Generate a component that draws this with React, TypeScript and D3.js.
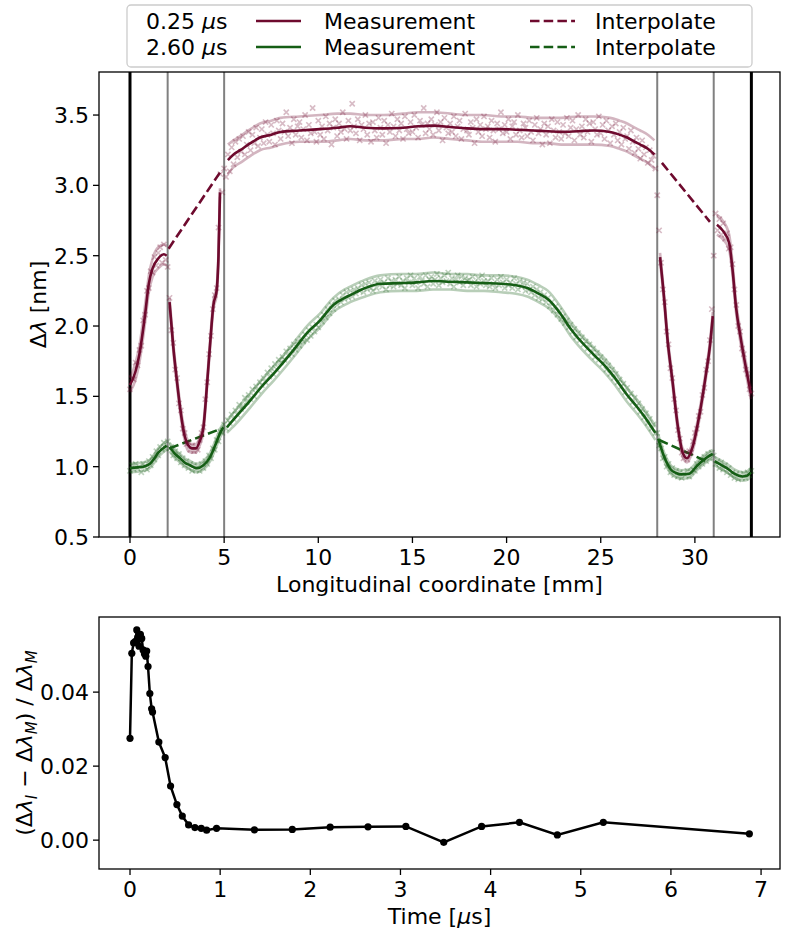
import React from "react";
import * as d3 from "d3";

// ---------- DATA ----------
// Segments: [x (mm), mean, lower envelope, upper envelope]
type Row = [number, number, number, number];

const M_SEG_A: Row[] = [
  [0, 1.58, 1.53, 1.63], [0.3, 1.68, 1.62, 1.74], [0.5, 1.8, 1.74, 1.86], [0.8, 2.08, 2.02, 2.15],
  [1.0, 2.3, 2.24, 2.36], [1.2, 2.41, 2.35, 2.48], [1.5, 2.48, 2.41, 2.56], [1.8, 2.51, 2.44, 2.58],
  [1.95, 2.5, 2.43, 2.57],
];
const M_SEG_B: Row[] = [
  [2.1, 2.17, 2.14, 2.2], [2.3, 1.85, 1.82, 1.88], [2.5, 1.6, 1.57, 1.63], [2.7, 1.38, 1.35, 1.41],
  [2.9, 1.22, 1.19, 1.26], [3.1, 1.15, 1.11, 1.18], [3.3, 1.13, 1.1, 1.16], [3.5, 1.13, 1.1, 1.16],
  [3.7, 1.18, 1.15, 1.21], [3.9, 1.28, 1.25, 1.31], [4.1, 1.6, 1.57, 1.63], [4.27, 1.9, 1.87, 1.93],
  [4.43, 2.15, 2.12, 2.18], [4.6, 2.25, 2.22, 2.28], [4.7, 2.5, 2.47, 2.53], [4.78, 2.95, 2.92, 2.98],
];
const M_SEG_C: Row[] = [
  [5.2, 3.18, 3.08, 3.29], [5.5, 3.22, 3.13, 3.32], [5.85, 3.25, 3.16, 3.35], [6.4, 3.3, 3.21, 3.4],
  [6.9, 3.34, 3.25, 3.44], [7.5, 3.36, 3.27, 3.46], [8.0, 3.38, 3.29, 3.48], [9.0, 3.39, 3.31, 3.49],
  [10.1, 3.4, 3.31, 3.5], [11.0, 3.41, 3.32, 3.51], [11.7, 3.42, 3.33, 3.51], [12.5, 3.41, 3.32, 3.5],
  [13.5, 3.405, 3.32, 3.5], [14.5, 3.41, 3.33, 3.51], [15.3, 3.42, 3.33, 3.52], [16.1, 3.425, 3.34, 3.52],
  [17.0, 3.415, 3.33, 3.51], [17.9, 3.405, 3.32, 3.5], [18.8, 3.4, 3.31, 3.5], [19.7, 3.4, 3.31, 3.49],
  [20.6, 3.395, 3.31, 3.49], [21.4, 3.39, 3.3, 3.48], [22.2, 3.385, 3.3, 3.48], [22.9, 3.38, 3.29, 3.48],
  [23.8, 3.385, 3.29, 3.49], [24.6, 3.39, 3.29, 3.49], [25.5, 3.38, 3.28, 3.48], [26.0, 3.36, 3.26, 3.46],
  [26.4, 3.34, 3.24, 3.44], [26.8, 3.31, 3.21, 3.41], [27.1, 3.29, 3.19, 3.39], [27.5, 3.26, 3.16, 3.36],
  [27.85, 3.22, 3.12, 3.32],
];
const M_SEG_D: Row[] = [
  [28.15, 2.49, 2.46, 2.52], [28.37, 2.19, 2.16, 2.22], [28.55, 1.9, 1.87, 1.93], [28.8, 1.62, 1.59, 1.65],
  [29.1, 1.28, 1.25, 1.31], [29.35, 1.1, 1.07, 1.13], [29.58, 1.06, 1.03, 1.1], [29.88, 1.14, 1.11, 1.17],
  [30.23, 1.36, 1.33, 1.39], [30.59, 1.66, 1.63, 1.69], [30.8, 1.86, 1.83, 1.89], [30.95, 2.07, 2.04, 2.1],
];
const M_SEG_E: Row[] = [
  [31.17, 2.72, 2.65, 2.79], [31.47, 2.68, 2.62, 2.75], [31.82, 2.59, 2.54, 2.65], [32.0, 2.4, 2.36, 2.45],
  [32.18, 2.14, 2.1, 2.18], [32.45, 1.9, 1.86, 1.94], [32.7, 1.71, 1.67, 1.75], [32.97, 1.52, 1.48, 1.56],
];
const M_INTERP: [number, number][][] = [
  [[2.05, 2.55], [4.82, 3.1]],
  [[28.25, 3.16], [30.8, 2.74]],
];

const G_SEG_A: Row[] = [
  [0, 0.99, 0.96, 1.02], [0.4, 0.995, 0.965, 1.025], [0.7, 1.0, 0.97, 1.03], [1.06, 1.02, 0.99, 1.05],
  [1.3, 1.06, 1.03, 1.09], [1.5, 1.1, 1.07, 1.13], [1.75, 1.13, 1.1, 1.16], [1.95, 1.15, 1.12, 1.18],
];
const G_SEG_B: Row[] = [
  [2.1, 1.14, 1.11, 1.17], [2.4, 1.09, 1.06, 1.12], [2.66, 1.06, 1.03, 1.09], [2.9, 1.03, 1.0, 1.06],
  [3.19, 1.01, 0.98, 1.04], [3.55, 0.99, 0.96, 1.02], [3.9, 1.01, 0.98, 1.04], [4.26, 1.07, 1.04, 1.1],
  [4.52, 1.15, 1.12, 1.18], [4.79, 1.24, 1.21, 1.27], [4.96, 1.28, 1.25, 1.31],
];
const G_SEG_C: Row[] = [
  [5.15, 1.28, 1.24, 1.33], [5.6, 1.35, 1.3, 1.4], [6.38, 1.47, 1.42, 1.52], [7.0, 1.57, 1.52, 1.62],
  [7.62, 1.66, 1.61, 1.71], [8.2, 1.75, 1.7, 1.8], [8.69, 1.83, 1.78, 1.88], [9.4, 1.95, 1.9, 2.0],
  [10.1, 2.04, 1.99, 2.09], [10.8, 2.15, 2.1, 2.2], [11.4, 2.2, 2.15, 2.26], [11.7, 2.22, 2.17, 2.28],
  [12.5, 2.27, 2.21, 2.33], [13.3, 2.3, 2.24, 2.36], [14.4, 2.305, 2.25, 2.37], [15.2, 2.31, 2.25, 2.37],
  [16.1, 2.32, 2.26, 2.38], [17.0, 2.315, 2.26, 2.37], [17.9, 2.31, 2.25, 2.37], [18.8, 2.305, 2.25, 2.36],
  [19.7, 2.3, 2.24, 2.36], [20.5, 2.29, 2.23, 2.35], [21.1, 2.27, 2.21, 2.33], [21.7, 2.23, 2.17, 2.29],
  [22.2, 2.19, 2.13, 2.25], [22.9, 2.08, 2.03, 2.13], [23.4, 1.98, 1.93, 2.03], [23.76, 1.92, 1.87, 1.97],
  [24.6, 1.8, 1.75, 1.85], [25.2, 1.72, 1.67, 1.77], [25.7, 1.64, 1.59, 1.69], [26.4, 1.51, 1.46, 1.56],
  [26.9, 1.43, 1.38, 1.48], [27.3, 1.36, 1.31, 1.41], [27.9, 1.24, 1.19, 1.29],
];
const G_SEG_D: Row[] = [
  [28.05, 1.2, 1.17, 1.23], [28.37, 1.07, 1.04, 1.1], [28.72, 0.98, 0.95, 1.01], [29.0, 0.955, 0.925, 0.985],
  [29.26, 0.945, 0.915, 0.975], [29.7, 0.95, 0.92, 0.98], [30.14, 1.01, 0.98, 1.04], [30.68, 1.07, 1.04, 1.1],
  [30.95, 1.09, 1.06, 1.12],
];
const G_SEG_E: Row[] = [
  [31.05, 1.04, 1.01, 1.07], [31.3, 1.02, 0.99, 1.05], [31.56, 1.0, 0.97, 1.03], [31.8, 0.98, 0.95, 1.01],
  [32.09, 0.95, 0.92, 0.98], [32.54, 0.93, 0.9, 0.96], [32.75, 0.935, 0.905, 0.965], [32.97, 0.96, 0.93, 0.99],
];
const G_INTERP: [number, number][][] = [
  [[2.1, 1.13], [4.85, 1.27]],
  [[28.1, 1.19], [30.75, 1.03]],
];

// Raw measurement samples, one every 0.1 mm from 0 to 33 mm
const SCATTER_STEP = 0.1;
const M_SCATTER = [
  1.55, 1.63, 1.62, 1.74, 1.72, 1.83, 1.86, 2.04, 2.08, 2.25,
  2.27, 2.39, 2.38, 2.49, 2.43, 2.52, 2.56, 2.45, 2.58, 2.47,
  2.42, 2.2, 1.97, 1.88, 1.69, 1.63, 1.45, 1.4, 1.27, 1.24,
  1.16, 1.17, 1.12, 1.15, 1.11, 1.14, 1.12, 1.19, 1.24, 1.28,
  1.48, 1.6, 1.8, 1.93, 2.12, 2.22, 2.27, 2.7, 3.08, 2.95,
  3.12, 3.06, 3.22, 3.1, 3.27, 3.15, 3.31, 3.2, 3.33, 3.24,
  3.35, 3.22, 3.29, 3.38, 3.25, 3.36, 3.3, 3.41, 3.28, 3.34,
  3.4, 3.3, 3.45, 3.36, 3.31, 3.43, 3.37, 3.29, 3.46, 3.39,
  3.33, 3.44, 3.38, 3.52, 3.35, 3.41, 3.3, 3.47, 3.36, 3.42,
  3.45, 3.34, 3.4, 3.5, 3.32, 3.43, 3.37, 3.55, 3.38, 3.31,
  3.46, 3.36, 3.42, 3.33, 3.49, 3.39, 3.44, 3.29, 3.41, 3.47,
  3.35, 3.44, 3.38, 3.52, 3.4, 3.33, 3.46, 3.39, 3.58, 3.42,
  3.37, 3.47, 3.32, 3.43, 3.4, 3.5, 3.36, 3.44, 3.31, 3.45,
  3.39, 3.34, 3.48, 3.41, 3.36, 3.46, 3.3, 3.43, 3.38, 3.51,
  3.42, 3.35, 3.47, 3.39, 3.44, 3.33, 3.49, 3.4, 3.37, 3.45,
  3.38, 3.5, 3.41, 3.34, 3.46, 3.43, 3.55, 3.37, 3.44, 3.4,
  3.47, 3.36, 3.43, 3.52, 3.39, 3.45, 3.32, 3.48, 3.41, 3.37,
  3.44, 3.38, 3.49, 3.35, 3.42, 3.46, 3.33, 3.4, 3.51, 3.39,
  3.36, 3.45, 3.41, 3.3, 3.47, 3.38, 3.43, 3.35, 3.49, 3.4,
  3.42, 3.34, 3.46, 3.39, 3.31, 3.44, 3.4, 3.52, 3.37, 3.43,
  3.38, 3.47, 3.33, 3.42, 3.45, 3.36, 3.5, 3.39, 3.34, 3.44,
  3.41, 3.35, 3.46, 3.38, 3.32, 3.43, 3.48, 3.37, 3.4, 3.29,
  3.44, 3.36, 3.42, 3.3, 3.47, 3.39, 3.34, 3.45, 3.38, 3.33,
  3.43, 3.37, 3.48, 3.35, 3.41, 3.46, 3.32, 3.4, 3.5, 3.36,
  3.42, 3.34, 3.47, 3.38, 3.44, 3.31, 3.45, 3.4, 3.36, 3.49,
  3.37, 3.43, 3.33, 3.46, 3.39, 3.3, 3.42, 3.36, 3.44, 3.32,
  3.38, 3.29, 3.41, 3.33, 3.35, 3.26, 3.39, 3.31, 3.23, 3.34,
  3.26, 3.19, 3.32, 3.22, 3.27, 3.16, 3.25, 3.18, 3.21, 3.12,
  2.93, 2.68, 2.45, 2.26, 2.17, 1.96, 1.87, 1.7, 1.63, 1.48,
  1.4, 1.26, 1.2, 1.1, 1.06, 1.09, 1.05, 1.11, 1.1, 1.18,
  1.24, 1.27, 1.36, 1.39, 1.51, 1.56, 1.69, 1.75, 1.9, 2.12,
  2.5, 2.8, 2.68, 2.76, 2.65, 2.73, 2.62, 2.66, 2.55, 2.56,
  2.44, 2.26, 2.15, 2.0, 1.96, 1.84, 1.8, 1.69, 1.66, 1.55,
  1.52,
];
const G_SCATTER = [
  0.97, 1.01, 0.98, 1.02, 0.99, 1.0, 0.96, 1.02, 1.0, 0.98,
  1.04, 1.01, 1.07, 1.05, 1.11, 1.08, 1.14, 1.12, 1.17, 1.13,
  1.18, 1.13, 1.14, 1.08, 1.11, 1.06, 1.09, 1.03, 1.06, 1.01,
  1.04, 0.99, 1.02, 0.97, 1.01, 0.98, 1.0, 0.97, 1.02, 0.99,
  1.04, 1.02, 1.08, 1.06, 1.13, 1.12, 1.19, 1.18, 1.25, 1.24,
  1.3, 1.27, 1.33, 1.31, 1.37, 1.34, 1.4, 1.37, 1.44, 1.41,
  1.43, 1.49, 1.46, 1.51, 1.48, 1.55, 1.5, 1.57, 1.54, 1.6,
  1.58, 1.63, 1.6, 1.67, 1.64, 1.7, 1.66, 1.73, 1.69, 1.76,
  1.74, 1.78, 1.76, 1.82, 1.79, 1.84, 1.8, 1.87, 1.83, 1.89,
  1.86, 1.91, 1.89, 1.94, 1.9, 1.97, 1.93, 1.99, 1.96, 2.01,
  1.99, 2.05, 2.03, 2.08, 2.06, 2.12, 2.09, 2.15, 2.12, 2.18,
  2.15, 2.19, 2.17, 2.22, 2.19, 2.24, 2.2, 2.25, 2.21, 2.26,
  2.23, 2.27, 2.25, 2.29, 2.24, 2.3, 2.26, 2.31, 2.27, 2.25,
  2.32, 2.27, 2.3, 2.33, 2.28, 2.31, 2.26, 2.34, 2.29, 2.32,
  2.28, 2.33, 2.3, 2.35, 2.29, 2.32, 2.27, 2.34, 2.31, 2.36,
  2.29, 2.34, 2.31, 2.27, 2.35, 2.32, 2.3, 2.36, 2.28, 2.33,
  2.35, 2.3, 2.33, 2.37, 2.29, 2.34, 2.31, 2.36, 2.32, 2.38,
  2.3, 2.34, 2.28, 2.33, 2.36, 2.31, 2.35, 2.29, 2.34, 2.32,
  2.33, 2.29, 2.35, 2.31, 2.28, 2.34, 2.3, 2.36, 2.32, 2.29,
  2.32, 2.28, 2.34, 2.3, 2.27, 2.33, 2.29, 2.35, 2.31, 2.27,
  2.33, 2.29, 2.31, 2.27, 2.34, 2.3, 2.26, 2.32, 2.28, 2.31,
  2.25, 2.3, 2.26, 2.24, 2.28, 2.22, 2.26, 2.2, 2.24, 2.19,
  2.22, 2.17, 2.2, 2.14, 2.17, 2.11, 2.14, 2.08, 2.11, 2.05,
  2.07, 2.02, 2.04, 1.99, 2.01, 1.96, 1.98, 1.92, 1.95, 1.9,
  1.92, 1.87, 1.89, 1.84, 1.87, 1.81, 1.84, 1.78, 1.81, 1.76,
  1.78, 1.73, 1.75, 1.69, 1.72, 1.66, 1.69, 1.63, 1.66, 1.6,
  1.62, 1.57, 1.59, 1.53, 1.56, 1.5, 1.52, 1.46, 1.49, 1.43,
  1.45, 1.39, 1.41, 1.35, 1.38, 1.31, 1.34, 1.27, 1.3, 1.24,
  1.24, 1.15, 1.13, 1.06, 1.07, 1.0, 1.02, 0.96, 0.99, 0.94,
  0.97, 0.93, 0.96, 0.92, 0.95, 0.94, 0.97, 0.93, 0.96, 0.98,
  0.97, 1.02, 1.0, 1.05, 1.02, 1.07, 1.04, 1.09, 1.06, 1.1,
  1.08, 1.02, 1.04, 0.99, 1.03, 0.98, 1.01, 0.96, 0.99, 0.94,
  0.96, 0.92, 0.95, 0.91, 0.94, 0.92, 0.95, 0.92, 0.96, 0.94,
  0.97,
];

const BOUNDARIES_OUTER = [0, 33];
const BOUNDARIES_INNER = [2, 5, 28, 31];
const TOP_X_TICKS = [0, 5, 10, 15, 20, 25, 30];
const TOP_Y_TICKS = [0.5, 1.0, 1.5, 2.0, 2.5, 3.0, 3.5];

// bottom panel: relative interpolation error vs time
const ERR_TIME = [
  0.0, 0.02, 0.04, 0.06, 0.075, 0.085, 0.1, 0.115, 0.13, 0.145, 0.16, 0.175, 0.185, 0.2, 0.22, 0.24,
  0.25, 0.32, 0.39, 0.45, 0.52, 0.58, 0.65, 0.72, 0.79, 0.85, 0.96, 1.38, 1.8, 2.22, 2.64, 3.06,
  3.48, 3.9, 4.32, 4.74, 5.25, 6.87,
];
const ERR_VALUE = [
  0.0275, 0.0505, 0.0533, 0.0537, 0.0568, 0.0548, 0.0524, 0.0556, 0.0545, 0.0514, 0.0504, 0.0497,
  0.0511, 0.0469, 0.0396, 0.0355, 0.0346, 0.0265, 0.0223, 0.0146, 0.0096, 0.0065, 0.0041, 0.0034,
  0.0032, 0.0027, 0.0032, 0.0028, 0.0029, 0.0035, 0.0036, 0.0037, -0.0006, 0.0037, 0.0048, 0.0014,
  0.0048, 0.0017,
];
const BOT_X_TICKS = [0, 1, 2, 3, 4, 5, 6, 7];
const BOT_Y_TICKS = [0.0, 0.02, 0.04];

// ---------- STYLE ----------
const FONT = "DejaVu Sans";
const FS = 22;
const MAROON = "#6e0a2e";
const GREEN = "#155e15";

const TOP = { left: 99, right: 780, top: 72, bottom: 537 };
const BOT = { left: 99, right: 780, top: 617, bottom: 869 };

const xTop = d3.scaleLinear().domain([-1.646, 34.52]).range([TOP.left, TOP.right]);
const yTop = d3.scaleLinear().domain([0.5, 3.806]).range([TOP.bottom, TOP.top]);
const xBot = d3.scaleLinear().domain([-0.344, 7.21]).range([BOT.left, BOT.right]);
const yBot = d3.scaleLinear().domain([-0.0078, 0.0603]).range([BOT.bottom, BOT.top]);

const curve = d3.curveMonotoneX;
const lineMean = d3.line<Row>().x((d) => xTop(d[0])).y((d) => yTop(d[1])).curve(curve);
const lineLo = d3.line<Row>().x((d) => xTop(d[0])).y((d) => yTop(d[2])).curve(curve);
const lineHi = d3.line<Row>().x((d) => xTop(d[0])).y((d) => yTop(d[3])).curve(curve);
const lineStraight = d3.line<[number, number]>().x((d) => xTop(d[0])).y((d) => yTop(d[1]));
const lineErr = d3.line<number>().x((_, i) => xBot(ERR_TIME[i])).y((d) => yBot(d));

function Series({ segs, scatter, interp, color }: { segs: Row[][]; scatter: number[]; interp: [number, number][][]; color: string }) {
  const s = 2.6;
  return (
    <g>
      <g stroke={color} strokeOpacity={0.28} strokeWidth={1.6} fill="none">
        {scatter.map((v, i) => {
          const cx = xTop(i * SCATTER_STEP);
          const cy = yTop(v);
          return <path key={i} d={`M${cx - s},${cy - s}L${cx + s},${cy + s}M${cx - s},${cy + s}L${cx + s},${cy - s}`} />;
        })}
      </g>
      <g fill="none" stroke={color} strokeOpacity={0.3} strokeWidth={2.6}>
        {segs.map((seg, i) => (
          <g key={i}>
            <path d={lineLo(seg) || ""} />
            <path d={lineHi(seg) || ""} />
          </g>
        ))}
      </g>
      <g fill="none" stroke={color} strokeWidth={2.6}>
        {segs.map((seg, i) => (
          <path key={i} d={lineMean(seg) || ""} />
        ))}
        {interp.map((seg, i) => (
          <path key={"i" + i} d={lineStraight(seg) || ""} strokeDasharray="9.5,4.2" />
        ))}
      </g>
    </g>
  );
}

export default function App() {
  const tickLen = 6;
  return (
    <svg width={788} height={942} style={{ display: "block", position: "absolute", left: 0, top: 0, fontFamily: FONT }}>
      <rect width={788} height={942} fill="white" />
      <defs>
        <clipPath id="clipTop">
          <rect x={TOP.left} y={TOP.top} width={TOP.right - TOP.left} height={TOP.bottom - TOP.top} />
        </clipPath>
        <clipPath id="clipBot">
          <rect x={BOT.left} y={BOT.top} width={BOT.right - BOT.left} height={BOT.bottom - BOT.top} />
        </clipPath>
      </defs>

      {/* ---------- TOP PANEL ---------- */}
      <g clipPath="url(#clipTop)">
        {BOUNDARIES_INNER.map((b) => (
          <line key={b} x1={xTop(b)} x2={xTop(b)} y1={TOP.top} y2={TOP.bottom} stroke="#808080" strokeWidth={2} />
        ))}
        {BOUNDARIES_OUTER.map((b) => (
          <line key={b} x1={xTop(b)} x2={xTop(b)} y1={TOP.top} y2={TOP.bottom} stroke="black" strokeWidth={3} />
        ))}
        <Series segs={[G_SEG_A, G_SEG_B, G_SEG_C, G_SEG_D, G_SEG_E]} scatter={G_SCATTER} interp={G_INTERP} color={GREEN} />
        <Series segs={[M_SEG_A, M_SEG_B, M_SEG_C, M_SEG_D, M_SEG_E]} scatter={M_SCATTER} interp={M_INTERP} color={MAROON} />
      </g>
      <rect x={TOP.left} y={TOP.top} width={TOP.right - TOP.left} height={TOP.bottom - TOP.top} fill="none" stroke="black" strokeWidth={1.3} />
      {TOP_X_TICKS.map((t) => (
        <g key={t}>
          <line x1={xTop(t)} x2={xTop(t)} y1={TOP.bottom} y2={TOP.bottom + tickLen} stroke="black" strokeWidth={1.3} />
          <text x={xTop(t)} y={TOP.bottom + 28} fontSize={FS} textAnchor="middle">{t}</text>
        </g>
      ))}
      {TOP_Y_TICKS.map((t) => (
        <g key={t}>
          <line x1={TOP.left - tickLen} x2={TOP.left} y1={yTop(t)} y2={yTop(t)} stroke="black" strokeWidth={1.3} />
          <text x={TOP.left - 10} y={yTop(t) + 8} fontSize={FS} textAnchor="end">{t.toFixed(1)}</text>
        </g>
      ))}
      <text x={(TOP.left + TOP.right) / 2} y={592} fontSize={FS} textAnchor="middle">Longitudinal coordinate [mm]</text>
      <text transform={`translate(46,${(TOP.top + TOP.bottom) / 2}) rotate(-90)`} fontSize={FS} textAnchor="middle">
        Δ<tspan fontStyle="italic">λ</tspan> [nm]
      </text>

      {/* legend */}
      <g>
        <rect x={127} y={5} width={625} height={62} rx={4} fill="white" fillOpacity={0.8} stroke="#cccccc" strokeWidth={1.3} />
        <text x={146} y={29} fontSize={FS}>0.25 <tspan fontStyle="italic">μ</tspan>s</text>
        <text x={146} y={55} fontSize={FS}>2.60 <tspan fontStyle="italic">μ</tspan>s</text>
        <line x1={256} x2={301} y1={21} y2={21} stroke={MAROON} strokeWidth={2.6} />
        <line x1={256} x2={301} y1={47} y2={47} stroke={GREEN} strokeWidth={2.6} />
        <text x={324} y={29} fontSize={FS}>Measurement</text>
        <text x={324} y={55} fontSize={FS}>Measurement</text>
        <line x1={530} x2={575} y1={21} y2={21} stroke={MAROON} strokeWidth={2.6} strokeDasharray="9.5,4.2" />
        <line x1={530} x2={575} y1={47} y2={47} stroke={GREEN} strokeWidth={2.6} strokeDasharray="9.5,4.2" />
        <text x={595} y={29} fontSize={FS}>Interpolate</text>
        <text x={595} y={55} fontSize={FS}>Interpolate</text>
      </g>

      {/* ---------- BOTTOM PANEL ---------- */}
      <g clipPath="url(#clipBot)">
        <path d={lineErr(ERR_VALUE) || ""} fill="none" stroke="black" strokeWidth={2.5} />
        {ERR_VALUE.map((v, i) => (
          <circle key={i} cx={xBot(ERR_TIME[i])} cy={yBot(v)} r={3.6} fill="black" />
        ))}
      </g>
      <rect x={BOT.left} y={BOT.top} width={BOT.right - BOT.left} height={BOT.bottom - BOT.top} fill="none" stroke="black" strokeWidth={1.3} />
      {BOT_X_TICKS.map((t) => (
        <g key={t}>
          <line x1={xBot(t)} x2={xBot(t)} y1={BOT.bottom} y2={BOT.bottom + tickLen} stroke="black" strokeWidth={1.3} />
          <text x={xBot(t)} y={BOT.bottom + 28} fontSize={FS} textAnchor="middle">{t}</text>
        </g>
      ))}
      {BOT_Y_TICKS.map((t) => (
        <g key={t}>
          <line x1={BOT.left - tickLen} x2={BOT.left} y1={yBot(t)} y2={yBot(t)} stroke="black" strokeWidth={1.3} />
          <text x={BOT.left - 10} y={yBot(t) + 8} fontSize={FS} textAnchor="end">{t.toFixed(2)}</text>
        </g>
      ))}
      <text x={(BOT.left + BOT.right) / 2} y={924} fontSize={FS} textAnchor="middle">
        Time [<tspan fontStyle="italic">μ</tspan>s]
      </text>
      <text transform={`translate(32,${(BOT.top + BOT.bottom) / 2}) rotate(-90)`} fontSize={FS} textAnchor="middle">
        (Δ<tspan fontStyle="italic">λ</tspan><tspan fontStyle="italic" fontSize={15} dy={5}>I</tspan>
        <tspan dy={-5}> − Δ</tspan><tspan fontStyle="italic">λ</tspan><tspan fontStyle="italic" fontSize={15} dy={5}>M</tspan>
        <tspan dy={-5}>) / Δ</tspan><tspan fontStyle="italic">λ</tspan><tspan fontStyle="italic" fontSize={15} dy={5}>M</tspan>
      </text>
    </svg>
  );
}
